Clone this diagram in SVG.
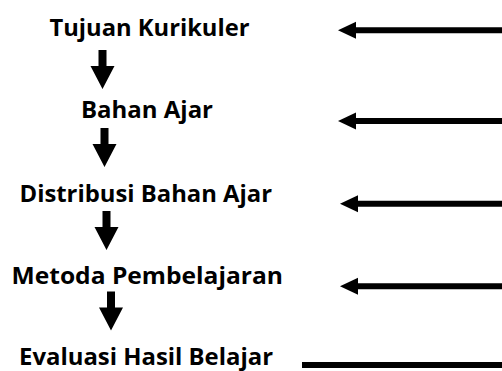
<svg xmlns="http://www.w3.org/2000/svg" width="502" height="371" viewBox="0 0 502 371">
  <style>
    .lbl { font-family: "Open Sans", "Noto Sans", "Liberation Sans", sans-serif; font-weight: bold; font-size: 23px; fill: #000; }
    .feed { stroke: #000; stroke-width: 6; fill: none; }
    .blk { fill: #000; }
  </style>
  <defs>
    <path id="downArrow" d="M0,0 L-12,-23 L-4,-23 L-4,-39 L4,-39 L4,-23 L12,-23 Z"/>
    <marker id="leftHead" markerUnits="userSpaceOnUse" markerWidth="20" markerHeight="20" refX="18" refY="10" orient="0" overflow="visible">
      <path d="M0,10 L18,1.5 L18,18.5 Z" fill="#000"/>
    </marker>
  </defs>
  <rect width="502" height="371" fill="#fff"/>

  <g id="node-tujuan-kurikuler">
    <text class="lbl" x="49.5" y="36" textLength="200" lengthAdjust="spacingAndGlyphs">Tujuan Kurikuler</text>
  </g>
  <g id="node-bahan-ajar">
    <text class="lbl" x="81" y="118" textLength="132" lengthAdjust="spacingAndGlyphs">Bahan Ajar</text>
  </g>
  <g id="node-distribusi-bahan-ajar">
    <text class="lbl" x="19.5" y="201.5" textLength="252.5" lengthAdjust="spacingAndGlyphs">Distribusi Bahan Ajar</text>
  </g>
  <g id="node-metoda-pembelajaran">
    <text class="lbl" x="11.5" y="284" textLength="271.5" lengthAdjust="spacingAndGlyphs">Metoda Pembelajaran</text>
  </g>
  <g id="node-evaluasi-hasil-belajar">
    <text class="lbl" x="19" y="364.5" textLength="254" lengthAdjust="spacingAndGlyphs">Evaluasi Hasil Belajar</text>
  </g>

  <g id="connectors">
    <use href="#downArrow" class="blk" transform="translate(102.5,89)"/>
    <use href="#downArrow" class="blk" transform="translate(104.5,167)"/>
    <use href="#downArrow" class="blk" transform="translate(106.5,250)"/>
    <use href="#downArrow" class="blk" transform="translate(111,330.5)"/>
    <line class="feed" x1="356" y1="30.3" x2="502" y2="30.3" marker-start="url(#leftHead)"/>
    <line class="feed" x1="356" y1="121" x2="502" y2="121" marker-start="url(#leftHead)"/>
    <line class="feed" x1="358" y1="203.7" x2="502" y2="203.7" marker-start="url(#leftHead)"/>
    <line class="feed" x1="358" y1="286.3" x2="502" y2="286.3" marker-start="url(#leftHead)"/>
    <line class="feed" x1="302" y1="365" x2="502" y2="365" stroke-width="6.5"/>
  </g>
</svg>
